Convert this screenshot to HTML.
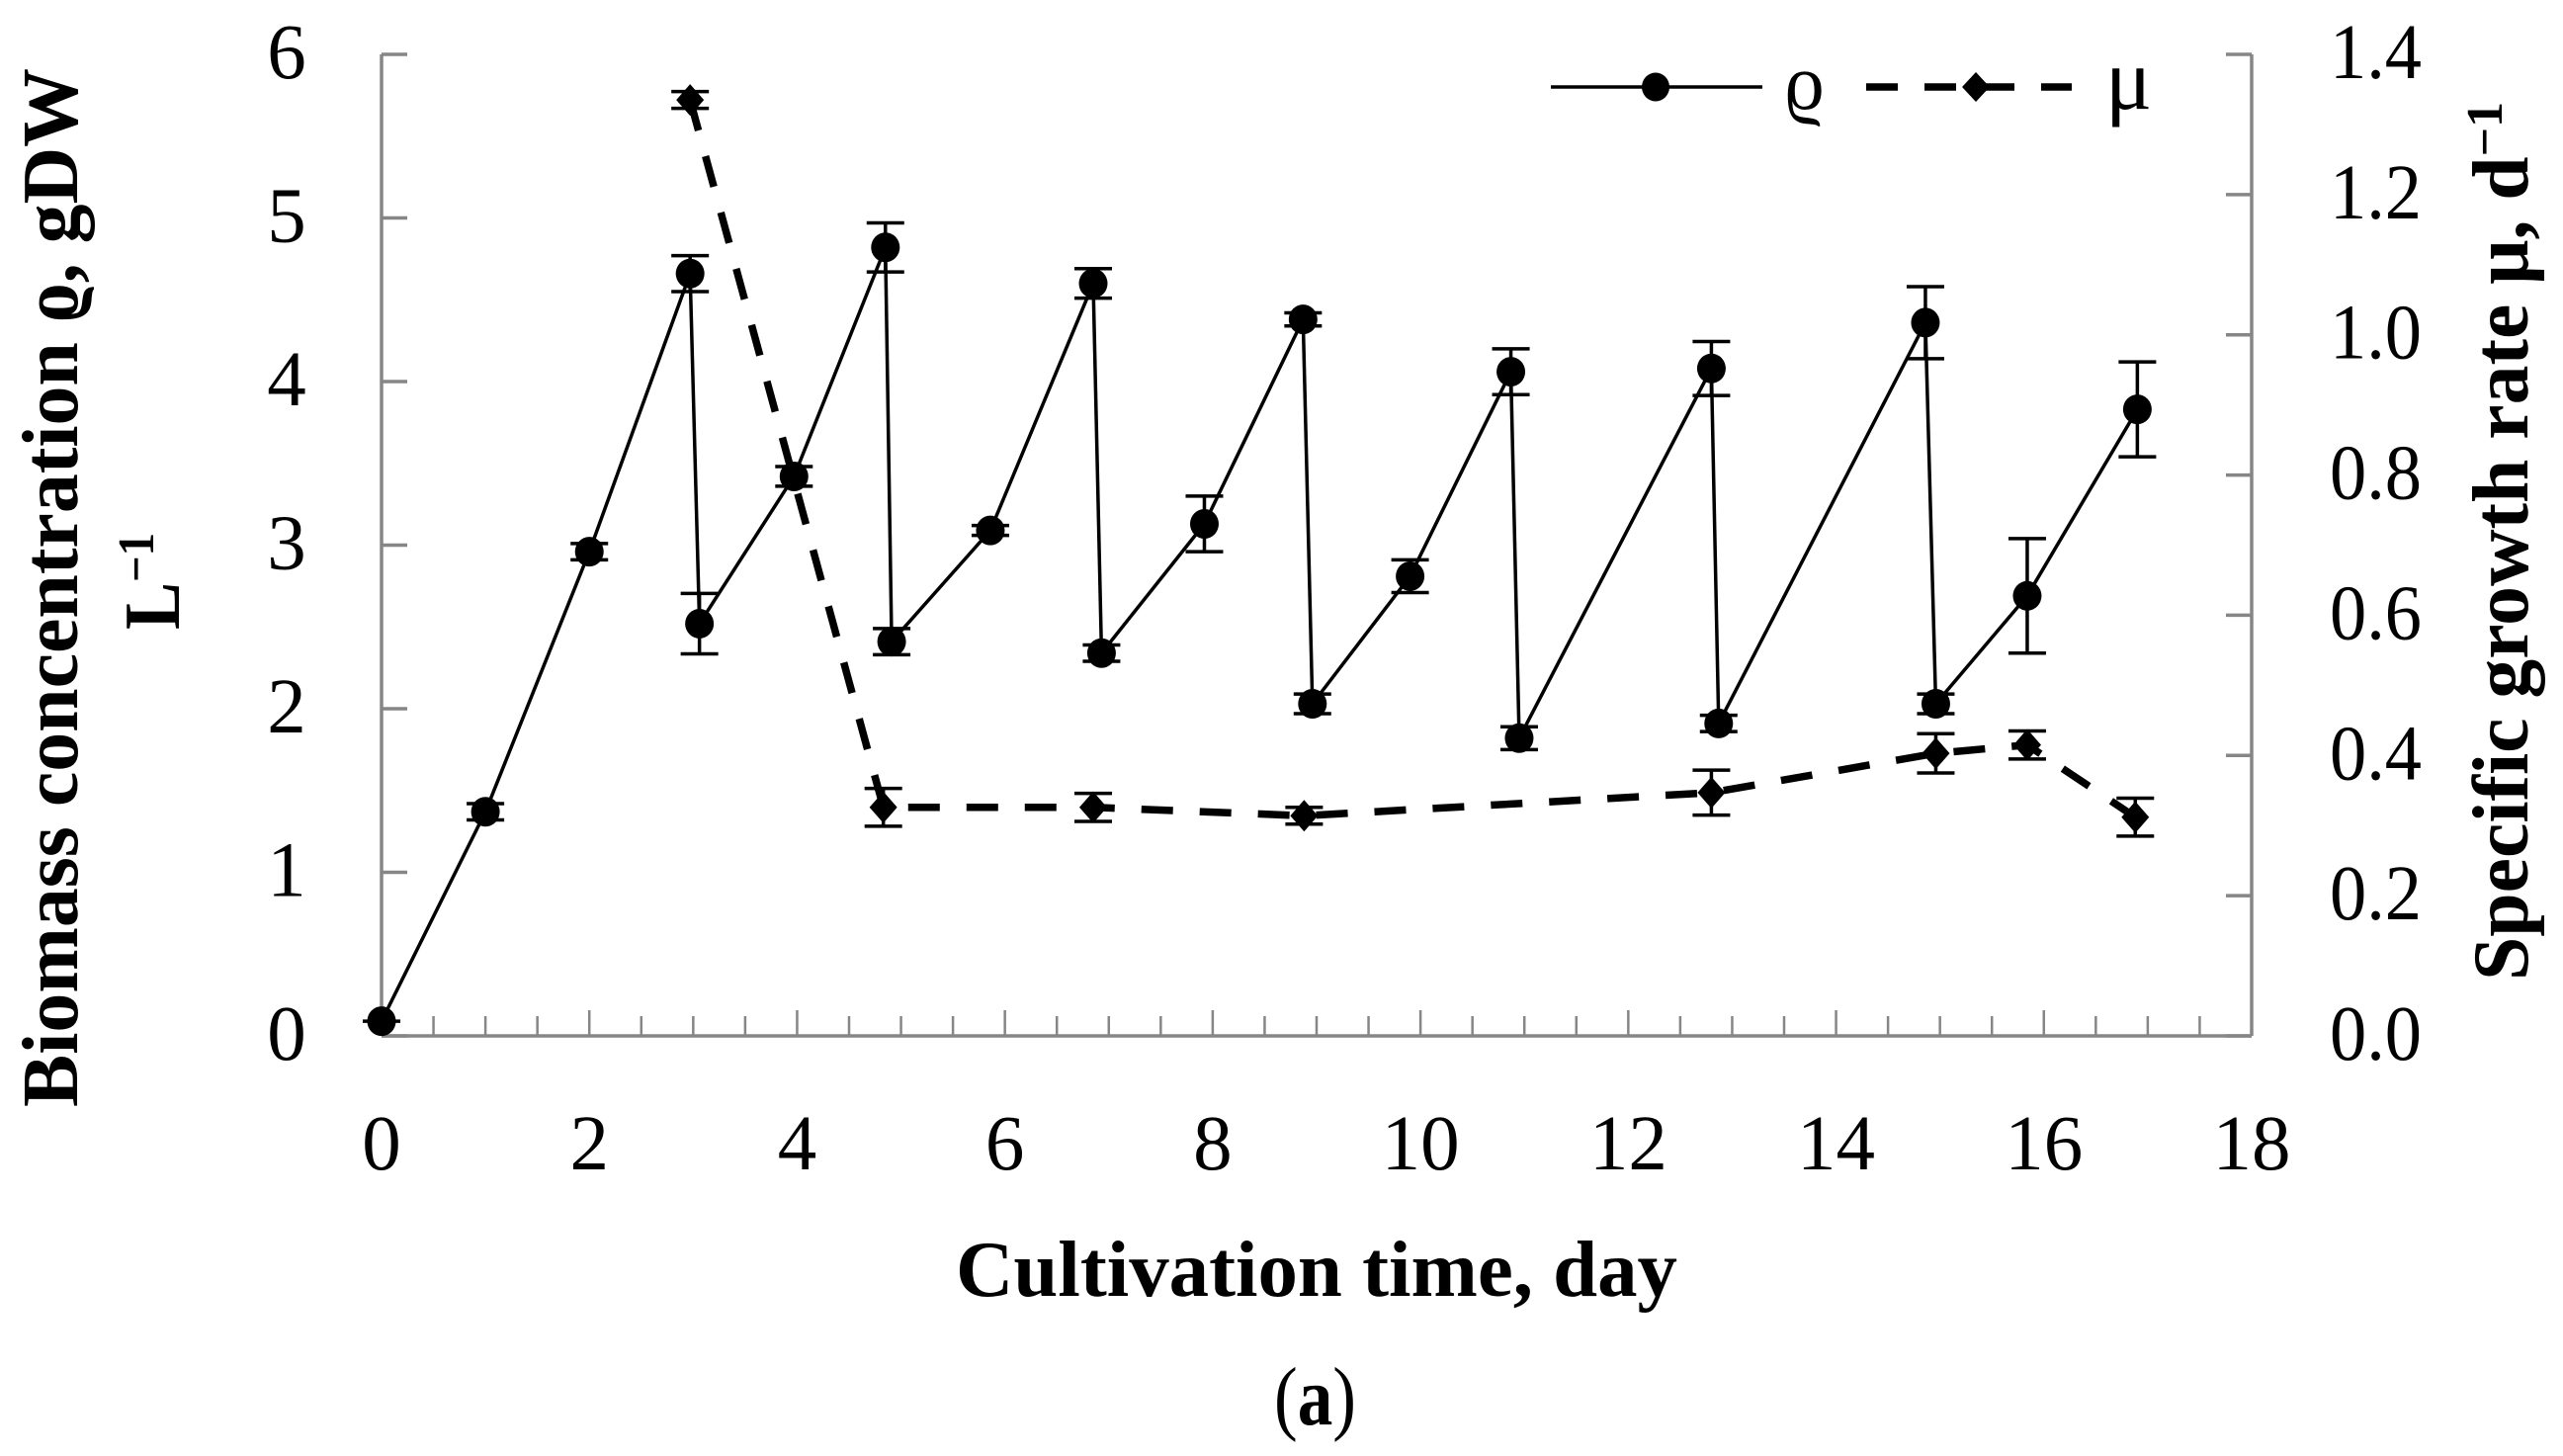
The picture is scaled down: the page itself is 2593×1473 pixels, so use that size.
<!DOCTYPE html>
<html lang="en">
<head>
<meta charset="utf-8">
<title>Biomass concentration and specific growth rate</title>
<style>
html,body{margin:0;padding:0;background:#fff;width:2593px;height:1473px;overflow:hidden}
svg{display:block}
text{font-family:"Liberation Serif","DejaVu Serif",serif;fill:#000}
</style>
</head>
<body>
<svg id="chart" xmlns="http://www.w3.org/2000/svg" width="2593" height="1473" viewBox="0 0 2593 1473">
  <rect x="0" y="0" width="2593" height="1473" fill="#fff"/>
  <g id="axes"></g>
  <g id="series"></g>

  <text x="967" y="1311" font-size="80" font-weight="bold" textLength="730" lengthAdjust="spacingAndGlyphs">Cultivation time, day</text>

  <text transform="translate(78,1120) rotate(-90)" font-size="80" font-weight="bold" textLength="1051" lengthAdjust="spacingAndGlyphs">Biomass concentration ϱ, gDW</text>
  <text transform="translate(181,637) rotate(-90)" font-size="80" font-weight="bold" textLength="98" lengthAdjust="spacingAndGlyphs">L<tspan font-size="52" dy="-26">−1</tspan></text>

  <text transform="translate(2557,992) rotate(-90)" font-size="80" font-weight="bold" textLength="889" lengthAdjust="spacingAndGlyphs">Specific growth rate μ, d<tspan font-size="52" dy="-26">−1</tspan></text>

  <g>
    <line x1="1569" y1="88" x2="1783" y2="88" stroke="#000" stroke-width="3.5"/>
    <ellipse cx="1675" cy="88" rx="14" ry="14.5" fill="#000"/>
    <text x="1805" y="110" font-size="80">ϱ</text>
    <line x1="1888" y1="88" x2="2096" y2="88" stroke="#000" stroke-width="7.5" stroke-dasharray="32 27"/>
    <path d="M1999 73 L2013 88 L1999 103 L1985 88 Z" fill="#000"/>
    <text x="2130" y="110" font-size="88">μ</text>
  </g>

  <text x="1289" y="1441" font-size="84" textLength="83" lengthAdjust="spacingAndGlyphs">(<tspan font-weight="bold">a</tspan>)</text>
</svg>
<script>
// Chart data
const xTickLabels = [0, 2, 4, 6, 8, 10, 12, 14, 16, 18];
const leftTickLabels = [0, 1, 2, 3, 4, 5, 6];
const rightTickLabels = ["0.0", "0.2", "0.4", "0.6", "0.8", "1.0", "1.2", "1.4"];
const minorStepDays = 0.5;

const rhoDays = [0, 1, 2, 2.97, 3.06, 3.97, 4.85, 4.91, 5.86, 6.85, 6.93, 7.92, 8.87, 8.96, 9.9, 10.87, 10.95, 12.8, 12.87, 14.86, 14.96, 15.84, 16.9];
const rhoValues = [0.09, 1.37, 2.96, 4.66, 2.52, 3.42, 4.82, 2.41, 3.09, 4.6, 2.34, 3.13, 4.38, 2.03, 2.81, 4.06, 1.82, 4.08, 1.91, 4.36, 2.03, 2.69, 3.83];
const rhoErrors = [0, 0.05, 0.05, 0.11, 0.185, 0.06, 0.15, 0.08, 0.03, 0.09, 0.05, 0.17, 0.04, 0.06, 0.1, 0.14, 0.07, 0.165, 0.05, 0.22, 0.06, 0.35, 0.29];

const muDays = [2.97, 4.83, 6.85, 8.88, 12.8, 14.96, 15.84, 16.88];
const muValues = [1.335, 0.326, 0.326, 0.314, 0.347, 0.403, 0.415, 0.312];
const muErrors = [0.012, 0.027, 0.02, 0.012, 0.032, 0.028, 0.02, 0.027];

// Axis functions
const xMin = 0, xMax = 18, leftMax = 6, rightMax = 1.4;
const plotLeft = 386, plotRight = 2278, plotTop = 55, plotBottom = 1048;
function xScale(d) { return plotLeft + (d - xMin) / (xMax - xMin) * (plotRight - plotLeft); }
function yLeft(v) { return plotBottom - v / leftMax * (plotBottom - plotTop); }
function yRight(v) { return plotBottom - v / rightMax * (plotBottom - plotTop); }

const NS = "http://www.w3.org/2000/svg";
function make(parent, tag, attrs) {
  const el = document.createElementNS(NS, tag);
  for (const k in attrs) el.setAttribute(k, attrs[k]);
  parent.appendChild(el);
  return el;
}
const axes = document.getElementById("axes");
const series = document.getElementById("series");
const axisStroke = { stroke: "#868686", "stroke-width": 3.5, fill: "none" };

// Axis lines
const leftAxis = make(axes, "line", Object.assign({ x1: plotLeft, y1: plotTop, x2: plotLeft, y2: plotBottom }, axisStroke));


const rightAxis = make(axes, "line", Object.assign({ x1: plotRight, y1: plotTop, x2: plotRight, y2: plotBottom }, axisStroke));


const bottomAxis = make(axes, "line", Object.assign({ x1: plotLeft, y1: plotBottom, x2: plotRight, y2: plotBottom }, axisStroke));



// X ticks
for (let d = xMin + minorStepDays; d <= xMax; d += minorStepDays) {
  const major = Number.isInteger(d / 2);
  const t = make(axes, "line", Object.assign({ x1: xScale(d), y1: plotBottom, x2: xScale(d), y2: plotBottom - (major ? 26 : 20) }, axisStroke, { "stroke-width": 2.5 }));
  
  
}
xTickLabels.forEach(function (v) {
  const t = make(axes, "text", { x: xScale(v), y: 1183, "font-size": 79, "text-anchor": "middle" });
  t.textContent = v;
  
  
});

// Left ticks
leftTickLabels.forEach(function (v) {
  const t = make(axes, "line", Object.assign({ x1: plotLeft, y1: yLeft(v), x2: plotLeft + 26, y2: yLeft(v) }, axisStroke));
  
  
  const l = make(axes, "text", { x: 290, y: yLeft(v) + 24, "font-size": 79, "text-anchor": "middle" });
  l.textContent = v;
  
  
});

// Right ticks
rightTickLabels.forEach(function (v) {
  const t = make(axes, "line", Object.assign({ x1: plotRight, y1: yRight(+v), x2: plotRight - 26, y2: yRight(+v) }, axisStroke));
  
  
  const l = make(axes, "text", { x: 2357, y: yRight(+v) + 24, "font-size": 79, textLength: 93, lengthAdjust: "spacingAndGlyphs" });
  l.textContent = v;
  
  
});

// Series lines
const rhoLine = make(series, "polyline", {
  points: rhoDays.map(function (d, i) { return xScale(d) + "," + yLeft(rhoValues[i]); }).join(" "),
  fill: "none", stroke: "#000", "stroke-width": 3.5, "stroke-linejoin": "round"
});



const muLine = make(series, "polyline", {
  points: muDays.map(function (d, i) { return xScale(d) + "," + yRight(muValues[i]); }).join(" "),
  fill: "none", stroke: "#000", "stroke-width": 7.5, "stroke-dasharray": "32 27"
});



// Error bars and markers
function errorBar(x, yHi, yLo, name) {
  const g = make(series, "path", {
    d: "M" + x + " " + yHi + "V" + yLo + "M" + (x - 19) + " " + yHi + "H" + (x + 19) + "M" + (x - 19) + " " + yLo + "H" + (x + 19),
    fill: "none", stroke: "#000", "stroke-width": 3.5
  });
  
  
}
rhoDays.forEach(function (d, i) {
  errorBar(xScale(d), yLeft(rhoValues[i] + rhoErrors[i]), yLeft(rhoValues[i] - rhoErrors[i]), "biomass-error-bar");
  const m = make(series, "ellipse", { cx: xScale(d), cy: yLeft(rhoValues[i]), rx: 14.5, ry: 15, fill: "#000" });
  
  
});
muDays.forEach(function (d, i) {
  const x = xScale(d), y = yRight(muValues[i]);
  errorBar(x, yRight(muValues[i] + muErrors[i]), yRight(muValues[i] - muErrors[i]), "growth-rate-error-bar");
  const m = make(series, "path", {
    d: "M" + x + " " + (y - 16) + "L" + (x + 14) + " " + y + "L" + x + " " + (y + 16) + "L" + (x - 14) + " " + y + "Z",
    fill: "#000"
  });
  
  
});
</script>
</body>
</html>
